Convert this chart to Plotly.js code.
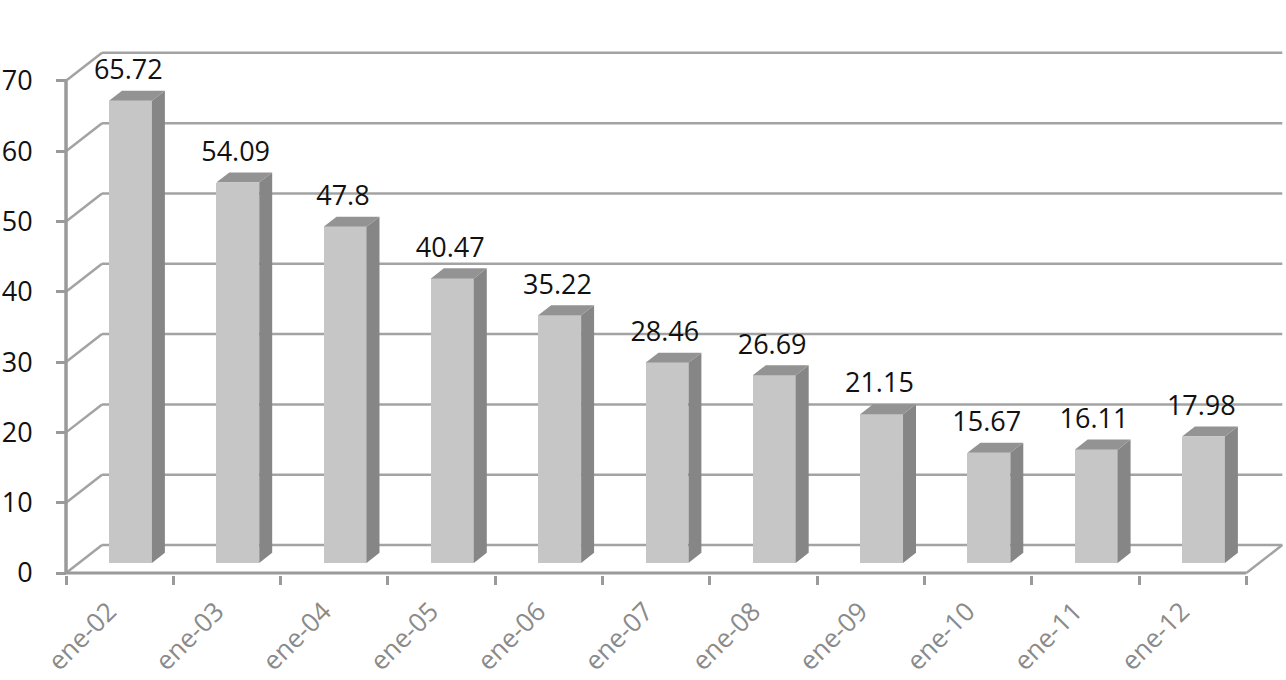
<!DOCTYPE html>
<html>
<head>
<meta charset="utf-8">
<script src="https://cdn.plot.ly/plotly-3.0.1.min.js"></script>
<style>html,body{margin:0;padding:0;background:#fff}#chart{width:1286px;height:680px}</style>
</head>
<body>
<div id="chart"></div>
<script>
// ---- data ----
const categories = ['ene-02','ene-03','ene-04','ene-05','ene-06','ene-07','ene-08','ene-09','ene-10','ene-11','ene-12'];
const values = [65.72, 54.09, 47.8, 40.47, 35.22, 28.46, 26.69, 21.15, 15.67, 16.11, 17.98];
const valueLabels = ['65.72','54.09','47.8','40.47','35.22','28.46','26.69','21.15','15.67','16.11','17.98'];
const yTicks = [0, 10, 20, 30, 40, 50, 60, 70];

// ---- 3D look constants (axis units) ----
const DX = 0.3355;   // depth shift along x
const DY = 3.98;     // depth shift along y
const F1 = 0.36, F2 = 0.72; // bar front / back depth fractions
const HW = 0.2, CX = -0.02; // bar half width, centre offset
const LABEL_SHIFT = -0.1;   // x tick label anchor shift

const n = categories.length;
const idx = categories.map((_, i) => i);
const frontX = idx.map(i => i + CX + F1 * DX);
const base = F1 * DY;
const dd = (F2 - F1) * DX, dz = (F2 - F1) * DY;

const sideX = [], sideY = [], topX = [], topY = [];
values.forEach((v, i) => {
  const xl = i + CX - HW + F1 * DX, xr = i + CX + HW + F1 * DX;
  const y0 = base, y1 = base + v;
  sideX.push(xr, xr, xr + dd, xr + dd, xr, null);
  sideY.push(y0, y1, y1 + dz, y0 + dz, y0, null);
  topX.push(xl, xr, xr + dd, xl + dd, xl, null);
  topY.push(y1, y1, y1 + dz, y1 + dz, y1, null);
});

const gridColor = '#a3a3a3';
const shapes = [];
const x0 = -0.5, x1 = n - 0.5;
yTicks.forEach(t => {
  shapes.push({type:'line', xref:'x', yref:'y', x0:x0 + DX, x1:x1 + DX, y0:t + DY, y1:t + DY, line:{color:gridColor, width:2.5}, layer:'below'});
  shapes.push({type:'line', xref:'x', yref:'y', x0:x0, x1:x0 + DX, y0:t, y1:t + DY, line:{color:gridColor, width:2.5}, layer:'below'});
});
shapes.push({type:'line', xref:'x', yref:'y', x0:x0, x1:x1, y0:0, y1:0, line:{color:'#9a9a9a', width:3}, layer:'below'});
shapes.push({type:'line', xref:'x', yref:'y', x0:x1, x1:x1 + DX, y0:0, y1:DY, line:{color:gridColor, width:2.5}, layer:'below'});
shapes.push({type:'line', xref:'x', yref:'y', x0:x0, x1:x0, y0:0, y1:yTicks[yTicks.length-1], line:{color:'#9a9a9a', width:3.5}, layer:'below'});

const traces = [
  {type:'bar', x:frontX, y:values, base:values.map(() => base), width:2*HW,
   marker:{color:'#c6c6c6', line:{width:0}}, hoverinfo:'skip', showlegend:false},
  {type:'scatter', mode:'lines', x:sideX, y:sideY, fill:'toself', fillcolor:'#868686',
   line:{width:0, color:'#868686'}, hoverinfo:'skip', showlegend:false},
  {type:'scatter', mode:'lines', x:topX, y:topY, fill:'toself', fillcolor:'#939393',
   line:{width:0, color:'#939393'}, hoverinfo:'skip', showlegend:false},
  {type:'scatter', mode:'text', x:frontX.map(x => x - 0.02), y:values.map(v => base + v + dz + 0.7),
   text:valueLabels, textposition:'top center',
   textfont:{family:'Open Sans, sans-serif', size:27, color:'#111111'},
   hoverinfo:'skip', showlegend:false, cliponaxis:false}
];

const xStart = -0.556, xEnd = 10.87;
const layout = {
  width:1286, height:680,
  margin:{l:60, r:0, t:48, b:105},
  paper_bgcolor:'#ffffff', plot_bgcolor:'#ffffff',
  showlegend:false,
  bargap:0,
  xaxis:{range:[xStart, xEnd], tickvals:idx.map(i => i + LABEL_SHIFT), ticktext:categories, tickangle:-45,
         tickfont:{family:'Open Sans, sans-serif', size:26, color:'#8a8a8a'},
         ticks:'', showgrid:false, zeroline:false, showline:false, ticklabelstandoff:15,
         minor:{tick0:-0.5, dtick:1, ticks:'outside', ticklen:9, tickwidth:3, tickcolor:'#9a9a9a', showgrid:false},
         fixedrange:true},
  yaxis:{range:[-0.284, 74.67], anchor:'free', position:(x0 - xStart) / (xEnd - xStart),
         tickvals:yTicks, ticks:'outside', ticklen:10, tickwidth:3, tickcolor:'#9a9a9a',
         tickfont:{family:'Open Sans, sans-serif', size:27, color:'#111111'},
         showgrid:false, zeroline:false, showline:false, ticklabelstandoff:18, fixedrange:true},
  shapes:shapes
};

Plotly.newPlot('chart', traces, layout, {displayModeBar:false, staticPlot:true});
</script>
</body>
</html>
